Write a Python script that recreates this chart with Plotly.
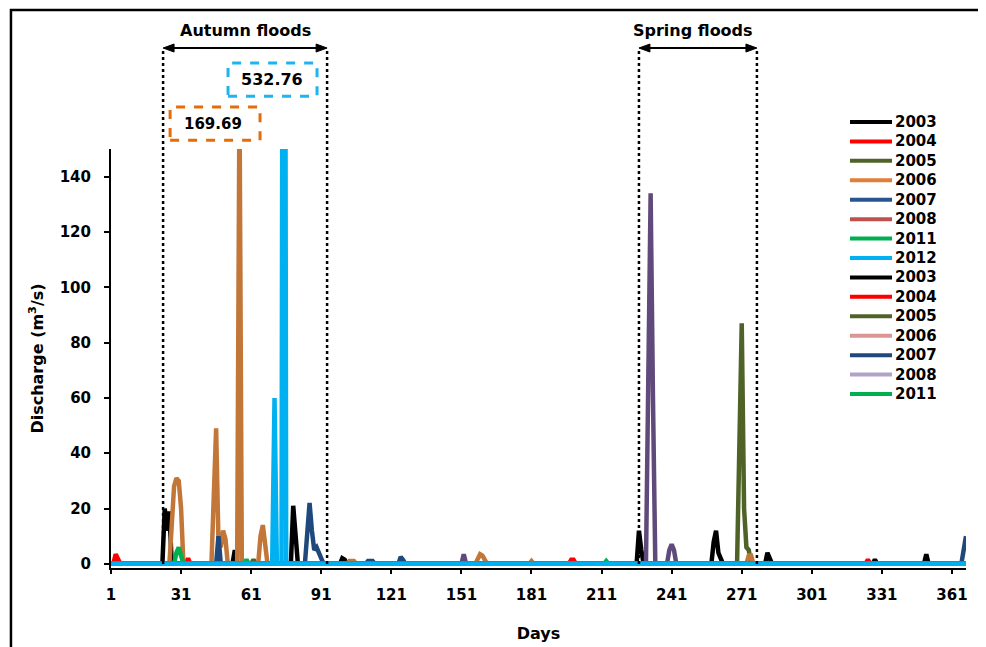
import plotly.graph_objects as go

# ---------------- data (day of hydrological year, discharge m3/s) ----------------
days_2003 = [1, 23, 24, 25, 26, 27, 53, 54, 55, 78, 79, 80, 81, 99, 100, 101, 102, 226, 227, 228, 229,
             258, 259, 260, 261, 262, 263, 281, 282, 283, 284, 327, 328, 329, 349, 350, 351, 367]
q_2003 = [0, 0, 20, 12, 19, 0, 0, 5, 0, 0, 21, 8, 0, 0, 2, 1.5, 0, 0, 12, 5, 0,
          0, 8, 12, 4, 2, 0, 0, 4, 2, 0, 0, 1.5, 0, 0, 3.5, 0, 0]

days_2004 = [1, 2, 3, 4, 5, 33, 34, 35, 197, 198, 199, 200, 324, 325, 326, 367]
q_2004 = [0, 0, 3.5, 2, 0, 0, 2, 0, 0, 1.5, 1.5, 0, 0, 1.5, 0, 0]

days_2005 = [1, 61, 62, 63, 269, 270, 271, 272, 273, 274, 275, 367]
q_2005 = [0, 0, 1.5, 0, 0, 40, 87, 20, 6, 5, 0, 0]

days_2006 = [1, 26, 27, 28, 29, 30, 31, 32, 44, 45, 46, 47, 48, 49, 50, 51, 55, 56, 57,
             64, 65, 66, 67, 68, 102, 103, 105, 106, 157, 158, 159, 160, 161, 162,
             180, 181, 182, 273, 274, 275, 276, 367]
q_2006 = [0, 0, 14, 28, 31, 30, 20, 0, 0, 30, 49, 8, 6, 12, 9, 0, 0, 169.69, 0,
          0, 10, 14, 8, 0, 0, 1, 1, 0, 0, 2, 3.5, 3, 1, 0,
          0, 1, 0, 0, 3, 3, 0, 0]

days_2007 = [1, 46, 47, 48, 84, 85, 86, 87, 88, 89, 90, 91, 92, 110, 111, 113, 114,
             124, 125, 126, 127, 365, 366, 367]
q_2007 = [0, 0, 10, 0, 0, 10, 22, 12, 5, 6, 4, 2, 0, 0, 1, 1, 0,
          0, 2.5, 1.5, 0, 0, 5, 10]

days_2008 = [1, 151, 152, 153, 230, 231, 232, 233, 234, 239, 240, 241, 242, 243, 367]
q_2008 = [0, 0, 3.5, 0, 0, 60, 134, 60, 0, 0, 5, 7, 5, 0, 0]

days_2011 = [1, 28, 29, 30, 31, 32, 58, 59, 60, 212, 213, 214, 367]
q_2011 = [0, 0, 4, 6, 3, 0, 0, 1.5, 0, 0, 1, 0, 0]

days_2012 = [1, 70, 71, 72, 74, 75, 76, 367]
q_2012 = [0, 0, 60, 0, 0, 532.76, 0, 0]

legend_labels = ["2003", "2004", "2005", "2006", "2007", "2008", "2011", "2012",
                 "2003", "2004", "2005", "2006", "2007", "2008", "2011"]
legend_colors = ["#000000", "#FF0000", "#4F6228", "#E07F3A", "#2A5490", "#C0504D", "#00B050", "#00B0F0",
                 "#000000", "#FF0000", "#4F6228", "#D99694", "#1F497D", "#B3A2C7", "#00B050"]

x_ticks = [1, 31, 61, 91, 121, 151, 181, 211, 241, 271, 301, 331, 361]
y_ticks = [0, 20, 40, 60, 80, 100, 120, 140]

peak_2006 = 169.69
peak_2012 = 532.76

# ---------------- figure ----------------
FONT = "DejaVu Sans, Verdana, sans-serif"
fig = go.Figure()

series = [
    (days_2003, q_2003, "#000000", "2003"),
    (days_2004, q_2004, "#FF0000", "2004"),
    (days_2005, q_2005, "#4F6228", "2005"),
    (days_2006, q_2006, "#C27638", "2006"),
    (days_2007, q_2007, "#1F497D", "2007"),
    (days_2008, q_2008, "#604A7B", "2008"),
    (days_2011, q_2011, "#00B050", "2011"),
    (days_2012, q_2012, "#00B0F0", "2012"),
]
for xs, ys, col, nm in series:
    fig.add_trace(go.Scatter(x=xs, y=ys, mode="lines", name=nm, showlegend=False,
                             line=dict(color=col, width=4.5)))

# hand-made legend (tight spacing like the original)
LX0, LX1, LTX = (850 - 111) / 855, (892 - 111) / 855, (893 - 111) / 855
for i, (lab, col) in enumerate(zip(legend_labels, legend_colors)):
    yy = (568 - (122 + i * 19.43)) / 419
    fig.add_shape(type="line", xref="paper", yref="paper", x0=LX0, x1=LX1, y0=yy, y1=yy,
                  line=dict(color=col, width=4))
    fig.add_annotation(xref="paper", yref="paper", x=LTX, y=yy, text="<b>%s</b>" % lab,
                       xanchor="left", yanchor="middle", showarrow=False,
                       font=dict(family=FONT, size=15, color="black"))

# flood-period dotted lines and double arrows
ARROW_Y = 1.241
for x0, x1 in [(23.3, 93.5), (227, 277.5)]:
    for xd in (x0, x1):
        fig.add_shape(type="line", xref="x", yref="paper", x0=xd, x1=xd, y0=0.0095, y1=ARROW_Y,
                      line=dict(color="black", width=2.5, dash="dot"))
    fig.add_shape(type="line", xref="x", yref="paper", x0=x0 + 3, x1=x1 - 3, y0=ARROW_Y, y1=ARROW_Y,
                  line=dict(color="black", width=2))
    hl, hh = 4.7, 0.0095
    fig.add_shape(type="path", xref="x", yref="paper", fillcolor="black", line=dict(color="black", width=1),
                  path=f"M {x0},{ARROW_Y} L {x0 + hl},{ARROW_Y + hh} L {x0 + hl},{ARROW_Y - hh} Z")
    fig.add_shape(type="path", xref="x", yref="paper", fillcolor="black", line=dict(color="black", width=1),
                  path=f"M {x1},{ARROW_Y} L {x1 - hl},{ARROW_Y + hh} L {x1 - hl},{ARROW_Y - hh} Z")

fig.add_annotation(xref="x", yref="paper", x=58.4, y=1.282, text="<b>Autumn floods</b>",
                   xanchor="center", yanchor="middle",
                   showarrow=False, font=dict(family=FONT, size=16, color="black"))
fig.add_annotation(xref="x", yref="paper", x=250, y=1.282, text="<b>Spring floods</b>",
                   xanchor="center", yanchor="middle",
                   showarrow=False, font=dict(family=FONT, size=16, color="black"))

# peak value boxes
fig.add_shape(type="rect", xref="x", yref="paper", x0=51.1, x1=89.2, y0=1.126, y1=1.205,
              line=dict(color="#1EB4F0", width=3, dash="dash"))
fig.add_annotation(xref="x", yref="paper", x=69.9, y=1.165, text="<b>%.2f</b>" % peak_2012,
                   xanchor="center", yanchor="middle",
                   showarrow=False, font=dict(family=FONT, size=16, color="black"))
fig.add_shape(type="rect", xref="x", yref="paper", x0=26.3, x1=64.8, y0=1.021, y1=1.100,
              line=dict(color="#E46C0A", width=3, dash="dash"))
fig.add_annotation(xref="x", yref="paper", x=44.7, y=1.060, text="<b>%.2f</b>" % peak_2006,
                   xanchor="center", yanchor="middle",
                   showarrow=False, font=dict(family=FONT, size=15, color="black"))

# outer frame
fig.add_shape(type="rect", xref="paper", yref="paper", x0=-0.117, x1=1.028, y0=-0.3, y1=1.332,
              line=dict(color="black", width=2.5))

fig.update_layout(
    width=978, height=639,
    margin=dict(l=103, r=20, t=141, b=79, autoexpand=False),
    plot_bgcolor="white", paper_bgcolor="white",
    font=dict(family=FONT, size=14, color="black"),
    showlegend=False,
    xaxis=dict(range=[1, 367], tickvals=x_ticks, ticktext=[str(v) for v in x_ticks],
               automargin=False,
               showgrid=False, zeroline=False, showline=True, linecolor="black", linewidth=1.5,
               ticks="outside", ticklen=4, tickwidth=2, tickcolor="black", layer="below traces",
               ticklabelstandoff=8,
               tickfont=dict(family=FONT, size=15, color="black", weight="bold"),
               title=dict(text="<b>Days</b>", font=dict(family=FONT, size=16, color="black"), standoff=25)),
    yaxis=dict(range=[-1.5, 150], tickvals=y_ticks, showgrid=False, zeroline=False,
               automargin=False,
               showline=True, linecolor="black", linewidth=2, ticks="outside", ticklen=5,
               tickwidth=2, tickcolor="black", layer="below traces", ticklabelstandoff=10,
               tickfont=dict(family=FONT, size=15, color="black", weight="bold"),
               title=dict(text="<b>Discharge (m<sup>3</sup>/s)</b>",
                          font=dict(family=FONT, size=16, color="black"), standoff=12)),
)

fig.write_html("out.html")
